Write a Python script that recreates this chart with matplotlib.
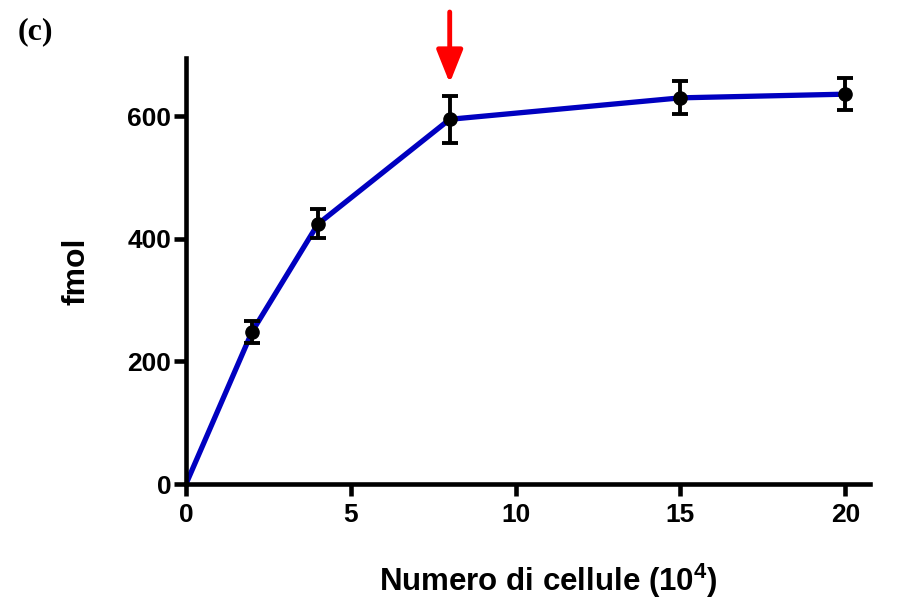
import matplotlib
matplotlib.use("Agg")
import matplotlib.pyplot as plt

# cell number (x 10^4) vs. fmol
cells = [0, 2, 4, 8, 15, 20]
fmol = [0, 248, 424, 595, 630, 636]
err_hi = [0, 266, 448, 633, 657, 662]
err_lo = [0, 230, 401, 556, 603, 610]

x_ticks = [0, 5, 10, 15, 20]
y_ticks = [0, 200, 400, 600]

plt.rcParams['font.family'] = ['Liberation Sans', 'DejaVu Sans']
plt.rcParams['font.weight'] = 'bold'
plt.rcParams['mathtext.fontset'] = 'custom'
plt.rcParams['mathtext.bf'] = 'Liberation Sans:bold'
plt.rcParams['mathtext.rm'] = 'Liberation Sans:bold'

fig = plt.figure(figsize=(9.01, 5.98), dpi=100)
ax = fig.add_axes([186 / 901, 114 / 598, (870 - 186) / 901, (484 - 58) / 598])

ax.plot(cells, fmol, color='#0000c0', lw=3.8, zorder=2, solid_capstyle='round')
yerr = [[f - lo for f, lo in zip(fmol, err_lo)], [hi - f for f, hi in zip(fmol, err_hi)]]
ax.errorbar(cells[1:], fmol[1:], yerr=[yerr[0][1:], yerr[1][1:]], fmt='o',
            color='black', ms=9.5, ecolor='black', elinewidth=2.8,
            capsize=5.5, capthick=2.8, zorder=3)

ax.set_xlim(0, 20.75)
ax.set_ylim(0, 695)
ax.set_xticks(x_ticks)
ax.set_yticks(y_ticks)
ax.tick_params(width=3.3, length=8.5, labelsize=19)
ax.tick_params(axis='x', pad=5)
ax.tick_params(axis='y', pad=2)
for lab in ax.get_xticklabels() + ax.get_yticklabels():
    lab.set_fontweight('bold')
for s in ['top', 'right']:
    ax.spines[s].set_visible(False)
for s in ['left', 'bottom']:
    ax.spines[s].set_linewidth(3.3)

ax.set_xlabel('Numero di cellule (10$^{4}$)', fontsize=22.5, fontweight='bold', labelpad=25)
ax.xaxis.label.set_x(0.529)
ax.set_ylabel('fmol', fontsize=23, fontweight='bold', labelpad=26)

# arrow marking the saturation point
ax.annotate('', xy=(8, 654), xytext=(8, 770),
            arrowprops=dict(arrowstyle='-|>,head_length=1.0,head_width=0.4', color='#ff0000',
                            lw=3.5, shrinkA=0, shrinkB=0, mutation_scale=20),
            annotation_clip=False)

fig.text(18 / 901, 1 - 32 / 598, '(c)', fontsize=23, fontweight='bold',
         family=['Liberation Serif', 'DejaVu Serif'], va='center', ha='left')

fig.savefig('out.png', dpi=100)
